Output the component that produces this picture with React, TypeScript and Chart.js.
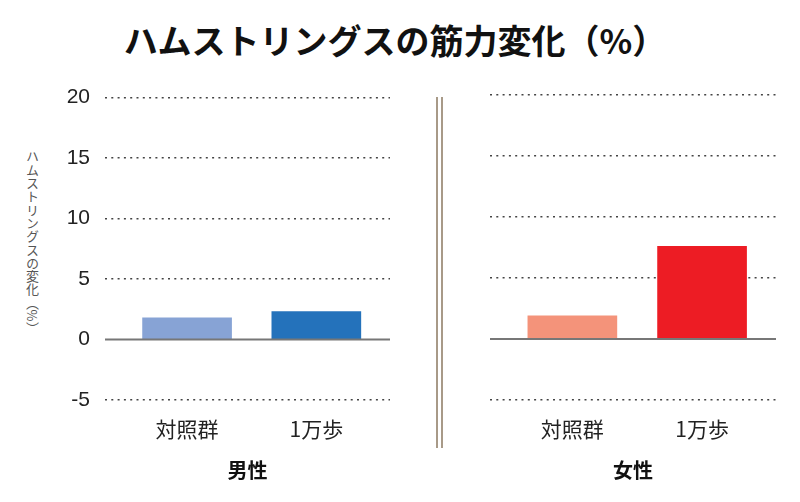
import React, { useEffect, useRef } from "react";
import { Chart, registerables } from "chart.js";
Chart.register(...registerables);

const chartTitle = "ハムストリングスの筋力変化（%）";
const yAxisTitle = "ハムストリングスの変化（%）";
const categories = ["対照群", "1万歩"];
const maleValues = [1.8, 2.3];
const femaleValues = [1.9, 7.6];
const groupTitles = ["男性", "女性"];
const yTicks = [-5, 0, 5, 10, 15, 20];
const maleColors = ["#87a3d5", "#2472bb"];
const femaleColors = ["#f4937a", "#ed1c24"];

const JP = "'Noto Sans CJK JP', 'Noto Sans', sans-serif";

const zeroLinePlugin = {
  id: "zeroLine",
  afterDatasetsDraw(chart: any) {
    const y = chart.scales.y.getPixelForValue(0);
    const { left, right } = chart.chartArea;
    const ctx = chart.ctx;
    ctx.save();
    ctx.strokeStyle = "#777777";
    ctx.lineWidth = 2;
    ctx.beginPath();
    ctx.moveTo(left, y);
    ctx.lineTo(right, y);
    ctx.stroke();
    ctx.restore();
  },
};

function Panel(props: {
  values: number[];
  colors: string[];
  groupTitle: string;
  showYTicks: boolean;
  yWidth: number;
  rightPad: number;
  topPad: number;
  left: number;
  top: number;
  width: number;
  height: number;
}) {
  const ref = useRef<HTMLCanvasElement | null>(null);
  useEffect(() => {
    if (!ref.current) return;
    const chart = new Chart(ref.current, {
      type: "bar",
      data: {
        datasets: [
          {
            data: props.values.map((v, i) => ({ x: i, y: v })) as any,
            backgroundColor: props.colors,
            barThickness: 89,
            borderWidth: 0,
          },
        ],
      },
      options: {
        animation: false,
        responsive: false,
        maintainAspectRatio: false,
        layout: { padding: { top: props.topPad, right: props.rightPad, left: 0, bottom: 0 } },
        plugins: { legend: { display: false }, tooltip: { enabled: false } },
        scales: {
          x: {
            type: "linear",
            offset: false,
            min: -0.635,
            max: 1.57,
            grid: { display: false, drawTicks: false },
            border: { display: false },
            afterBuildTicks: (s: any) => {
              s.ticks = categories.map((_, i) => ({ value: i }));
            },
            ticks: {
              callback: (v: any) => categories[v] ?? "",
              font: { size: 21, family: JP },
              color: "#222",
              padding: 16,
              autoSkip: false,
              maxRotation: 0,
            },
            title: {
              display: true,
              text: props.groupTitle,
              font: { size: 20, weight: "bold", family: JP },
              color: "#111",
              padding: { top: 0, bottom: 18 },
            },
            afterFit: (s: any) => {
              s.height = 100;
            },
          } as any,
          y: {
            min: -5,
            max: 20,
            afterBuildTicks: (s: any) => {
              s.ticks = yTicks.map((v) => ({ value: v }));
            },
            grid: {
              color: (c: any) => (c.tick && c.tick.value === 0 ? "rgba(0,0,0,0)" : "#444"),
              lineWidth: 1.5,
              drawTicks: false,
            },
            border: { display: false, dash: [2, 4.3] },
            ticks: {
              display: props.showYTicks,
              padding: 15,
              font: { size: 21, family: "'Liberation Sans', Arial, sans-serif" },
              color: "#222",
            },
            afterFit: (s: any) => {
              s.width = props.yWidth;
            },
          } as any,
        },
      },
      plugins: [zeroLinePlugin],
    });
    return () => chart.destroy();
  }, []);
  return (
    <canvas
      ref={ref}
      width={props.width}
      height={props.height}
      style={{
        position: "absolute",
        left: props.left,
        top: props.top,
        width: props.width,
        height: props.height,
      }}
    />
  );
}

export default function App() {
  return (
    <div
      style={{
        position: "absolute",
        left: 0,
        top: 0,
        width: 800,
        height: 502,
        overflow: "hidden",
        background: "#fff",
      }}
    >
      <div
        style={{
          position: "absolute",
          left: 0,
          top: 16,
          width: 790,
          textAlign: "center",
          fontFamily: JP,
          fontWeight: "bold",
          fontSize: 34,
          lineHeight: "48px",
          color: "#111",
        }}
      >
        {chartTitle}
      </div>
      <div
        style={{
          position: "absolute",
          left: 26,
          top: 150,
          writingMode: "vertical-rl",
          fontFamily: JP,
          fontSize: 13,
          letterSpacing: 0.3,
          lineHeight: 1,
          color: "#555",
        }}
      >
        {yAxisTitle}
      </div>
      <div
        style={{
          position: "absolute",
          left: 436,
          top: 97,
          width: 3,
          height: 351,
          borderLeft: "2px solid #a89a88",
          borderRight: "2px solid #a89a88",
        }}
      />
      <Panel
        values={maleValues}
        colors={maleColors}
        groupTitle={groupTitles[0]}
        showYTicks={true}
        yWidth={105}
        rightPad={10}
        topPad={5}
        left={0}
        top={70}
        width={400}
        height={430}
      />
      <Panel
        values={femaleValues}
        colors={femaleColors}
        groupTitle={groupTitles[1]}
        showYTicks={false}
        yWidth={30}
        rightPad={24}
        topPad={15}
        left={460}
        top={80}
        width={340}
        height={420}
      />
    </div>
  );
}
